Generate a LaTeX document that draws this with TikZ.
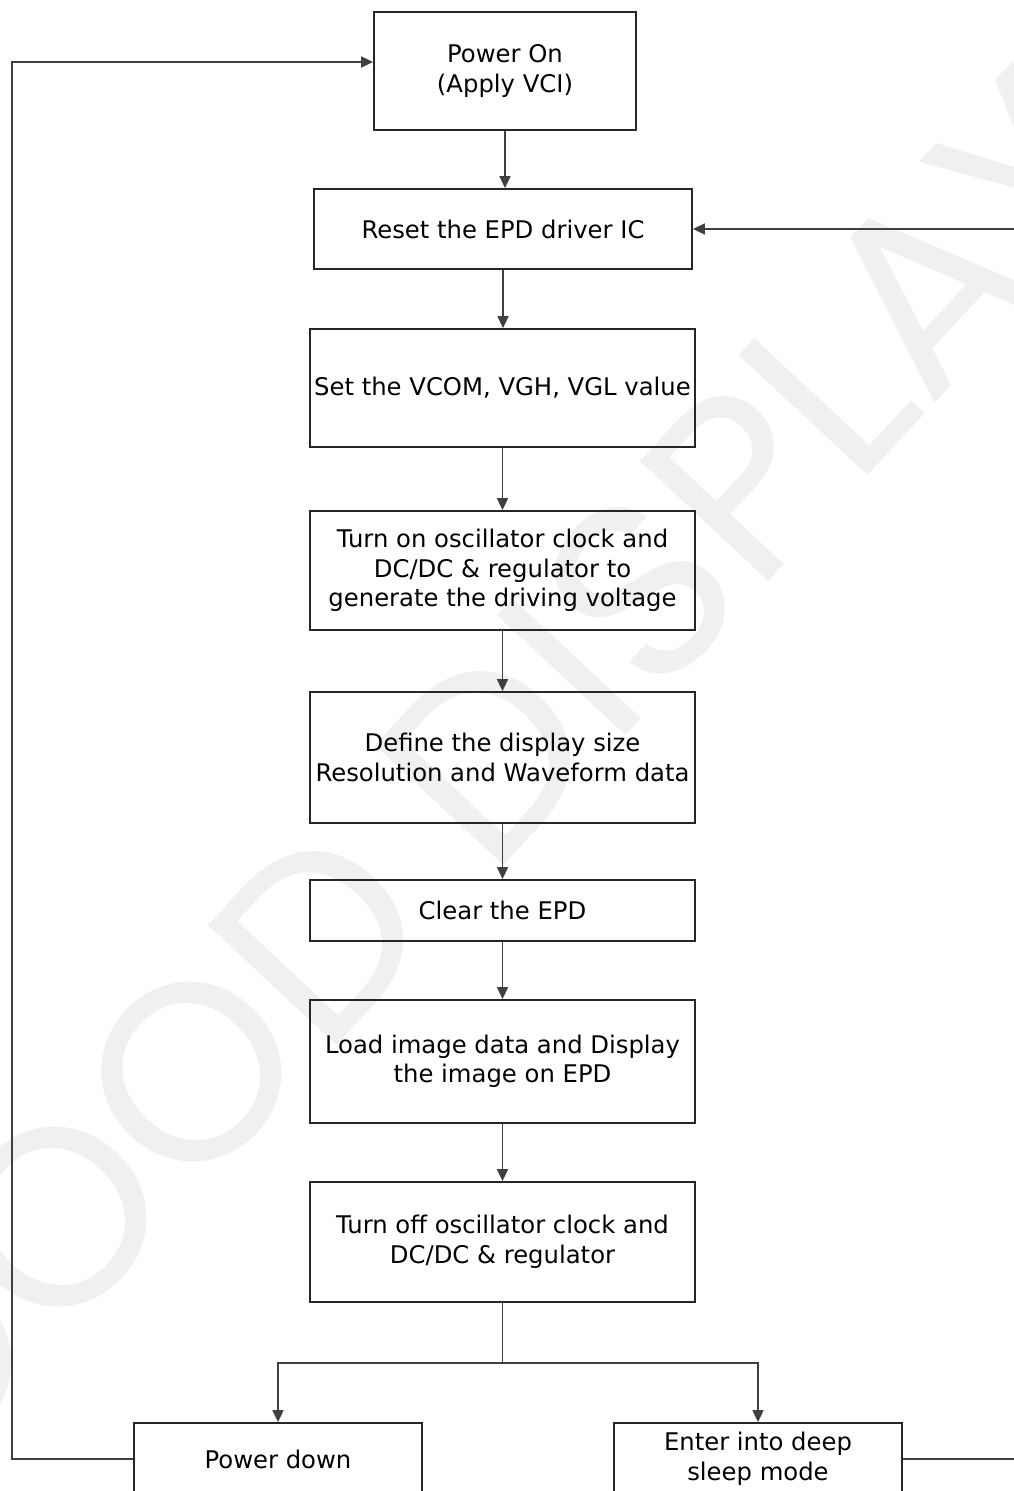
\documentclass[tikz,border=0pt]{standalone}
\usepackage{fontspec}
\setmainfont{DejaVu Sans}
\newfontfamily\markfont{Poppins}
\usetikzlibrary{arrows.meta}
\usetikzlibrary{backgrounds}
\newcommand{\pagew}{1013}
\newcommand{\pageh}{1491}
\newcommand{\colx}{502.5}
\newcommand{\wideboxw}{385pt}
\newcommand{\sideboxw}{288pt}
\newcommand{\leftrailx}{12}
\newcommand{\rightrailx}{1026}
\newcommand{\splity}{1363}
\tikzset{
  stepbox/.style={draw=black!85, line width=1.8pt, align=center,
    inner sep=0pt, minimum width=\wideboxw},
  flow/.style={draw=black!75, line width=1.7pt,
    -{Triangle[width=11pt,length=12pt]}},
  wire/.style={draw=black!75, line width=1.7pt},
}

\begin{document}
\begin{tikzpicture}[x=1pt,y=-1pt,font=\fontsize{24.3}{29.5}\selectfont]
    \useasboundingbox (0,0) rectangle (\pagew,\pageh);
    % steps
    \node (poweron) at (505,71) [stepbox, minimum width=262pt,
      minimum height=118pt] {Power On\\(Apply VCI)};
    \node (reset) at (503,229) [stepbox, minimum width=378pt,
      minimum height=80pt] {Reset the EPD driver IC};
    \node (setvcom) at (\colx,388) [stepbox, minimum height=118pt]
      {Set the VCOM, VGH, VGL value};
    \node (turnon) at (\colx,570.5) [stepbox, minimum height=119pt]
      {Turn on oscillator clock and\\DC/DC \& regulator to\\generate the driving voltage};
    \node (define) at (\colx,757.5) [stepbox, minimum height=131pt]
      {Define the display size\\Resolution and Waveform data};
    \node (clear) at (\colx,910.5) [stepbox, minimum height=61pt]
      {Clear the EPD};
    \node (load) at (\colx,1061.5) [stepbox, minimum height=123pt]
      {Load image data and Display\\the image on EPD};
    \node (turnoff) at (\colx,1242) [stepbox, minimum height=120pt]
      {Turn off oscillator clock and\\DC/DC \& regulator};
    \node (powerdown) at (278,1459) [stepbox, minimum width=\sideboxw,
      minimum height=72pt] {Power down};
    \node (sleep) at (758,1459) [stepbox, minimum width=\sideboxw,
      minimum height=72pt] {Enter into deep\\sleep mode};

    % main chain
    \foreach \a/\b in {poweron/reset, reset/setvcom, setvcom/turnon,
      turnon/define, define/clear, clear/load, load/turnoff}
      \draw[flow] (\a.south) -- (\a.south |- \b.north);

    % branch
    \coordinate (split) at (\colx,\splity);
    \draw[wire] (turnoff.south) -- (split);
    \draw[flow] (split) -| (powerdown.north);
    \draw[flow] (split) -| (sleep.north);

    % loops back
    \coordinate (leftrail) at (\leftrailx,62);
    \coordinate (rightrail) at (\rightrailx,229);
    \draw[flow] (powerdown.west) -| (leftrail) -- (leftrail -| poweron.west);
    \draw[flow] (sleep.east) -| (rightrail) -- (reset.east);

    \begin{scope}[on background layer]
      \fill[white] (0,0) rectangle (\pagew,\pageh);
      % watermark
      \node (mark) at (468,775) [rotate=47, text=black!6,
        font=\markfont\fontsize{252}{252}\selectfont] {GOOD DISPLAY};
    \end{scope}
\end{tikzpicture}
\end{document}
